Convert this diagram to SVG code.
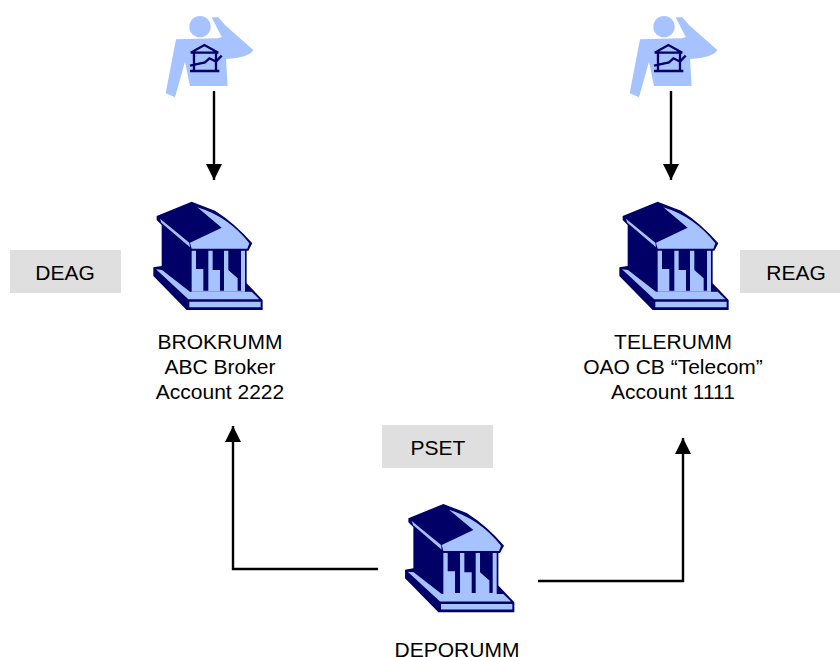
<svg xmlns="http://www.w3.org/2000/svg" width="840" height="657" viewBox="0 0 840 657">
<style>
text{font-family:"Liberation Sans",Arial,sans-serif;font-size:21px;fill:#000;text-anchor:middle}
.tag{fill:#dfdfdf}
.dark{fill:#000066}
.light{fill:#a6c3ff}
.ln{fill:none;stroke:#000;stroke-width:2.4}
</style>
<defs>
<marker id="ah" markerUnits="userSpaceOnUse" markerWidth="16" markerHeight="17" refX="16" refY="8" orient="auto"><path d="M0 0L16 8L0 16Z" fill="#000"/></marker>
<g id="bank" transform="translate(140 190) scale(.3333)">
<path class="dark" d="M50 78L155 35L225 62Q285 100 337 160L325 182H320V280L368 330V360H140L40 258V232L65 228V105L50 90Z"/>
<path class="light" d="M172 52Q265 80 328 160L322 176H155L150 158L245 113Z"/>
<path class="light" d="M60 86L148 158L150 172L64 98Z"/>
<path class="light" d="M155 182H168V237H190V302H205V182H218V240H240V302H252V182H265V240L293 265V302H303V182H315V305H155Z"/>
<path class="light" d="M48 238L66 240L150 305H335L358 328H145Z"/>
<path class="light" d="M148 335H362V352H148Z"/>
</g>
<g id="person" transform="translate(150 5) scale(.3333)">
<circle class="light" cx="150" cy="65" r="32"/>
<path class="light" d="M78 103L205 100L215 96L185 37H205L225 60L310 135Q298 158 228 162L233 243H120L105 170L75 277L47 265Z"/>
<path fill="none" stroke="#000066" stroke-width="7" d="M122 143L163 120L205 143M122 143H205M132 143V198M198 143V198M120 198H208M120 182L165 172L178 160L198 170L215 152"/>
</g>
</defs>
<g id="connectors">
<path class="ln" marker-end="url(#ah)" d="M214 91V180"/>
<path class="ln" marker-end="url(#ah)" d="M671 91V180"/>
<path class="ln" marker-end="url(#ah)" d="M378 569H233V426"/>
<path class="ln" marker-end="url(#ah)" d="M538 581H683V438"/>
</g>
<g id="person-left"><use href="#person"/></g>
<g id="person-right"><use href="#person" x="464"/></g>
<g id="brokrumm"><use href="#bank"/><text x="220" y="349">BROKRUMM</text><text x="220" y="374">ABC Broker</text><text x="220" y="399">Account 2222</text></g>
<g id="telerumm"><use href="#bank" x="466"/><text x="673" y="349">TELERUMM</text><text x="673" y="374">OAO CB “Telecom”</text><text x="673" y="399">Account 1111</text></g>
<g id="deporumm"><use href="#bank" x="251.7" y="302.3"/><text x="457" y="656.5">DEPORUMM</text></g>
<g id="deag"><rect class="tag" x="10" y="250" width="111" height="43"/><text x="65" y="280">DEAG</text></g>
<g id="reag"><rect class="tag" x="740" y="250" width="100" height="43"/><text x="796" y="280">REAG</text></g>
<g id="pset"><rect class="tag" x="382" y="425" width="111" height="43"/><text x="438" y="455">PSET</text></g>
</svg>
